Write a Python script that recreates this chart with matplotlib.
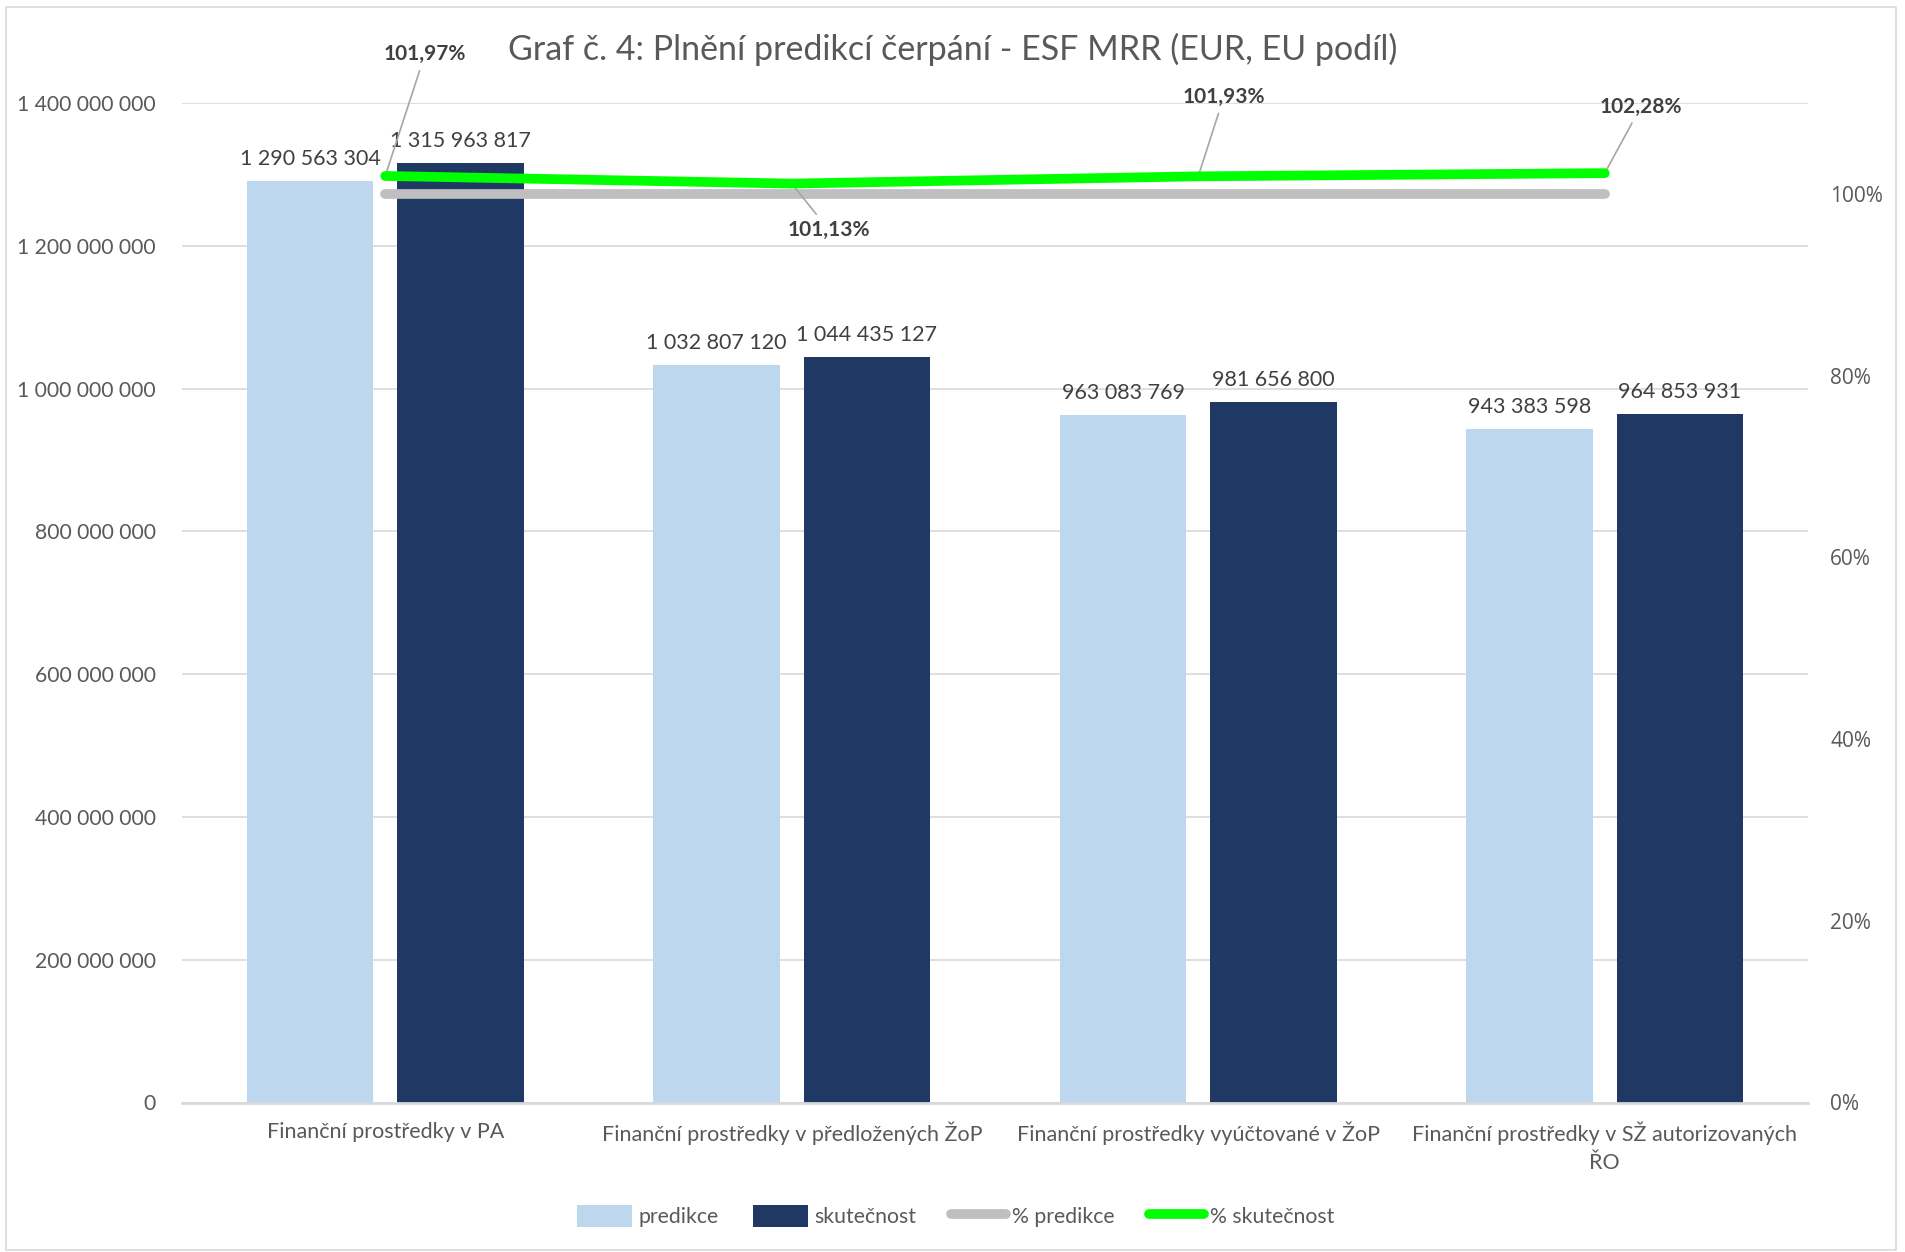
import matplotlib
matplotlib.use("Agg")
import matplotlib.pyplot as plt
from matplotlib.patches import Rectangle, Patch
from matplotlib.lines import Line2D
from matplotlib.ticker import FuncFormatter, MultipleLocator

categories = ["Finanční prostředky v PA",
              "Finanční prostředky v předložených ŽoP",
              "Finanční prostředky vyúčtované v ŽoP",
              "Finanční prostředky v SŽ autorizovaných\nŘO"]
predikce = [1290563304, 1032807120, 963083769, 943383598]
skutecnost = [1315963817, 1044435127, 981656800, 964853931]
pct_predikce = [1.0, 1.0, 1.0, 1.0]
pct_skutecnost = [1.0197, 1.0113, 1.0193, 1.0228]
series_names = ["predikce", "skutečnost", "% predikce", "% skutečnost"]
title = "Graf č. 4: Plnění predikcí čerpání - ESF MRR (EUR, EU podíl)"

C_LIGHT = "#BDD7EE"
C_DARK = "#1F3864"
C_GRAY = "#BFBFBF"
C_GREEN = "#00FF00"
TXT = "#595959"
LBL = "#404040"
FONT = ["Lato", "DejaVu Sans"]

plt.rcParams["font.family"] = FONT

fig = plt.figure(figsize=(19.06, 12.52), dpi=100)
fig.patches.append(Rectangle((6/1906, 2/1252), 1890/1906, 1243/1252, transform=fig.transFigure,
                             fill=False, edgecolor="#D9D9D9", linewidth=1.2))

ax = fig.add_axes([182/1906, 1 - 1102.5/1252, (1808-182)/1906, (1102.5-103)/1252])
x = list(range(len(categories)))
w = 0.311
off = 0.185
b1 = ax.bar([i - off for i in x], predikce, width=w, color=C_LIGHT, zorder=2)
b2 = ax.bar([i + off for i in x], skutecnost, width=w, color=C_DARK, zorder=2)

fmt_num = lambda v: f"{v:,.0f}".replace(",", " ")
for bars, vals in ((b1, predikce), (b2, skutecnost)):
    for r, v in zip(bars, vals):
        ax.annotate(fmt_num(v), (r.get_x() + r.get_width()/2, v), xytext=(0, 8.5),
                    textcoords="offset points", ha="center", va="bottom",
                    fontsize=15.5, color=LBL)

ax.set_xlim(-0.5, len(categories) - 0.5)
ax.set_ylim(0, 1.4e9)
ax.yaxis.set_major_locator(MultipleLocator(2e8))
ax.yaxis.set_major_formatter(FuncFormatter(lambda v, p: fmt_num(v)))
ax.grid(axis="y", color="#D9D9D9", linewidth=1.2, zorder=0)
ax.set_axisbelow(True)
for s in ["top", "right", "left"]:
    ax.spines[s].set_visible(False)
ax.spines["bottom"].set_color("#D9D9D9")
ax.spines["bottom"].set_linewidth(2)
ax.set_xticks(x)
ax.set_xticklabels(categories, fontsize=15.5, color=TXT, linespacing=1.5)
ax.tick_params(axis="x", length=0, pad=14)
ax.tick_params(axis="y", length=0, pad=19, labelsize=15.2, labelcolor=TXT)

ax2 = ax.twinx()
ax2.set_ylim(0, 1.1)
ax2.yaxis.set_major_locator(MultipleLocator(0.2))
ax2.yaxis.set_major_formatter(FuncFormatter(lambda v, p: f"{v*100:.0f}%" if v <= 1.0001 else ""))
for s in ["top", "right", "left", "bottom"]:
    ax2.spines[s].set_visible(False)
ax2.tick_params(axis="y", length=0, pad=16, labelcolor=TXT)
for t in ax2.get_yticklabels():
    t.set_fontfamily(["Open Sans", "DejaVu Sans"])
    t.set_fontsize(15)

ax2.plot(x, pct_predikce, color=C_GRAY, linewidth=7, solid_capstyle="round", zorder=3)
ax2.plot(x, pct_skutecnost, color=C_GREEN, linewidth=7, solid_capstyle="round", zorder=4)

label_pos = [(0.098, 1.154), (1.092, 0.960), (2.063, 1.107), (3.089, 1.096)]
for i, (v, pos) in enumerate(zip(pct_skutecnost, label_pos)):
    ax2.annotate(f"{v*100:.2f}%".replace(".", ","), (x[i], v), xytext=pos, textcoords="data",
                 ha="center", va="center", fontsize=15, fontweight="bold", color=LBL,
                 annotation_clip=False,
                 arrowprops=dict(arrowstyle="-", color="#A6A6A6", lw=1.2, shrinkA=3, shrinkB=2))

fig.text(0.5, 1 - 49/1252, title, ha="center", va="center", fontsize=24.5, color=TXT)

handles = [Patch(facecolor=C_LIGHT), Patch(facecolor=C_DARK),
           Line2D([0], [0], color=C_GRAY, lw=7, solid_capstyle="round"),
           Line2D([0], [0], color=C_GREEN, lw=7, solid_capstyle="round")]
fig.legend(handles, series_names, loc="center", bbox_to_anchor=(956/1906, 1 - 1216/1252), ncol=4,
           frameon=False, fontsize=15.3, labelcolor=TXT, handlelength=2.6, handleheight=1.2,
           handletextpad=0.3, columnspacing=1.6)

fig.savefig("out.png", dpi=100)
